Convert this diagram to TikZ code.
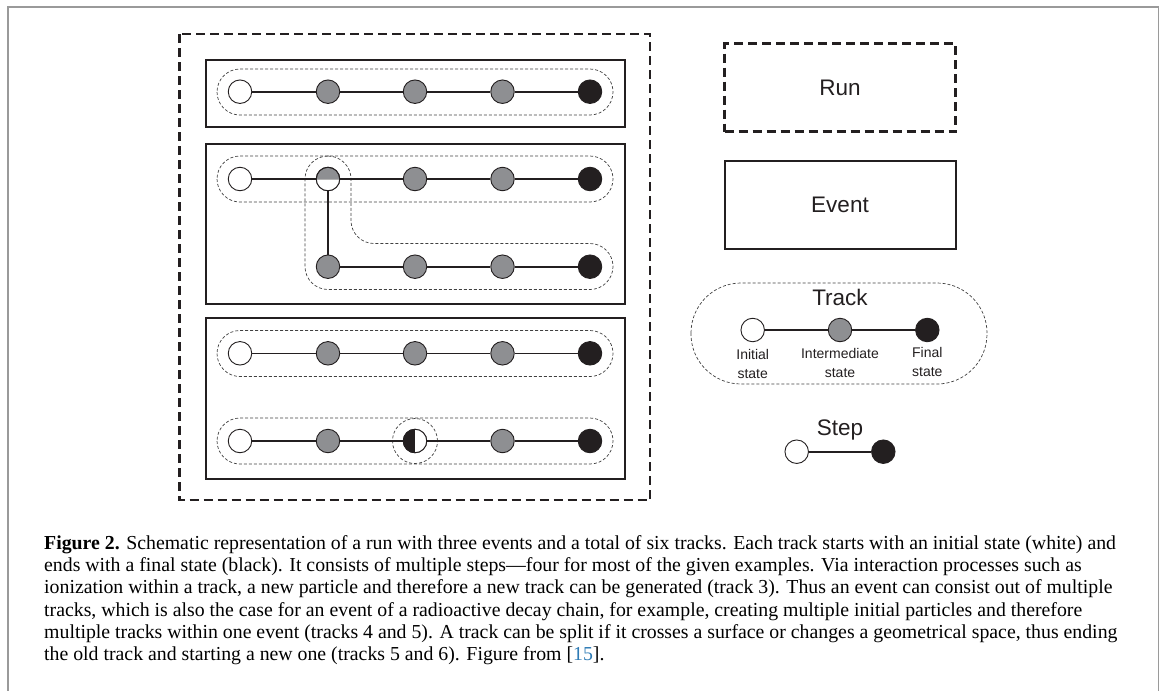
\documentclass[tikz,border=0pt]{standalone}
\usepackage{fontspec}
\setmainfont{Liberation Serif}
\setsansfont{Liberation Sans}
\usepackage{xcolor}
\usetikzlibrary{positioning}

\definecolor{midgray}{HTML}{8E8F92}
\definecolor{darkfill}{HTML}{231F20}
\definecolor{citeblue}{HTML}{2E7BB5}
\definecolor{framegray}{HTML}{9A9A9A}

\tikzset{
  state/.style={circle, draw=darkfill, line width=0.9pt, minimum size=23.5pt, inner sep=0pt},
  initstate/.style={state, fill=white},
  midstate/.style={state, fill=midgray},
  finstate/.style={state, fill=darkfill},
  link/.style={draw=darkfill, line width=1.6pt},
  trackbox/.style={draw=black!75, line width=0.7pt, dash pattern=on 3pt off 2pt},
  eventbox/.style={draw=darkfill, line width=2pt},
  runbox/.style={draw=darkfill, line width=2.3pt, dash pattern=on 9pt off 5pt},
  keytext/.style={font=\sffamily\fontsize{22.5}{27}\selectfont, text=darkfill},
  smalltext/.style={font=\sffamily\fontsize{14}{18.3}\selectfont, text=darkfill, align=center},
  capline/.style={anchor=base west, inner sep=0pt, font=\fontsize{19.8}{22}\selectfont},
}

\begin{document}
\begin{tikzpicture}[x=1pt, y=-1pt]
\useasboundingbox (0,0) rectangle (1163,691);
\draw[framegray, line width=1.6pt] (8,691) -- (8,7) -- (1158.5,7) -- (1158.5,691);

% run and events
\draw[runbox] (179.5,34) rectangle (650,500);
\draw[eventbox] (205.5,60) rectangle (625,126.5);
\draw[eventbox] (205.5,143.5) rectangle (625,303.5);
\draw[eventbox] (205.5,317.5) rectangle (625,478.5);

% tracks
\draw[trackbox, rounded corners=23pt] (217,69) rectangle (613,115);
\draw[trackbox, rounded corners=23pt] (217,156) rectangle (613,202);
\draw[trackbox, rounded corners=23pt] (305,156) -- (351,156) -- (351,243.5) -- (613,243.5)
  -- (613,289.5) -- (305,289.5) -- cycle;
\draw[trackbox, rounded corners=23pt] (217,330.5) rectangle (613,376.5);
\draw[trackbox, rounded corners=23pt] (217,418) rectangle (613,464);
\draw[trackbox] (415,441) circle[radius=22.5pt];

% states
\foreach \r/\y in {1/91.7, 2/179, 4/353.3, 5/441} {
  \node[initstate] (s\r1) at (240,\y) {};
  \node[midstate] (s\r2) at (328,\y) {};
  \node[midstate] (s\r3) at (415,\y) {};
  \node[midstate] (s\r4) at (502.5,\y) {};
  \node[finstate] (s\r5) at (590,\y) {};
}
\node[midstate] (s32) at (328,266.7) {};
\node[midstate] (s33) at (415,266.7) {};
\node[midstate] (s34) at (502.5,266.7) {};
\node[finstate] (s35) at (590,266.7) {};

% split state (track 3 starts here)
\begin{scope}
  \clip (310,179) rectangle (346,196);
  \fill[white] (s22.center) circle[radius=11.75pt];
\end{scope}
\draw[black!30, line width=0.8pt] (s22.west) -- (s22.east);
\draw[darkfill, line width=0.9pt] (s22.center) circle[radius=11.75pt];

% surface crossing state
\begin{scope}
  \clip (397,423) rectangle (415,459);
  \fill[darkfill] (s53.center) circle[radius=11.75pt];
\end{scope}
\begin{scope}
  \clip (415,423) rectangle (433,459);
  \fill[white] (s53.center) circle[radius=11.75pt];
\end{scope}
\draw[darkfill, line width=0.9pt] (s53.center) circle[radius=11.75pt];

% steps
\foreach \r in {1,2,4,5}
  \foreach \a/\b in {1/2,2/3,3/4,4/5}
    \draw[link] (s\r\a) -- (s\r\b);
\foreach \a/\b in {2/3,3/4,4/5}
  \draw[link] (s3\a) -- (s3\b);
\draw[link] (s22) -- (s32);

% legend
\node[runbox, minimum width=231pt, minimum height=88pt, keytext] (runkey) at (840,87.5) {Run};
\node[eventbox, minimum width=231pt, minimum height=88.5pt, keytext] (eventkey) at (840,205) {Event};
\draw[trackbox, rounded corners=50pt] (691,283) rectangle (987,384);
\node[keytext] (trackkey) at (840,297) {Track};
\node[initstate] (ki) at (752.7,330) {};
\node[midstate] (km) at (840,330) {};
\node[finstate] (kf) at (927.3,330) {};
\draw[link] (ki) -- (km);
\draw[link] (km) -- (kf);
\node[smalltext] (kitext) at (752.7,364) {Initial\\state};
\node[smalltext] (kmtext) at (840,363) {Intermediate\\state};
\node[smalltext] (kftext) at (927.3,362) {Final\\state};

\node[keytext] (stepkey) at (840,430) {Step};
\node[initstate] (ska) at (796.7,451.7) {};
\node[finstate] (skb) at (883.3,451.7) {};
\draw[link] (ska) -- (skb);

% caption
\node[capline] (cap1) at (44,549.5) {\textbf{Figure 2.} Schematic representation of a run with three events and a total of six tracks. Each track starts with an initial state (white) and};
\node[capline] (cap2) at (44,571.7) {ends with a final state (black). It consists of multiple steps---four for most of the given examples. Via interaction processes such as};
\node[capline] (cap3) at (44,593.9) {ionization within a track, a new particle and therefore a new track can be generated (track 3). Thus an event can consist out of multiple};
\node[capline] (cap4) at (44,616.1) {tracks, which is also the case for an event of a radioactive decay chain, for example, creating multiple initial particles and therefore};
\node[capline] (cap5) at (44,638.3) {multiple tracks within one event (tracks 4 and 5). A track can be split if it crosses a surface or changes a geometrical space, thus ending};
\node[capline] (cap6) at (44,660.5) {the old track and starting a new one (tracks 5 and 6). Figure from [\textcolor{citeblue}{15}].};
\end{tikzpicture}
\end{document}
